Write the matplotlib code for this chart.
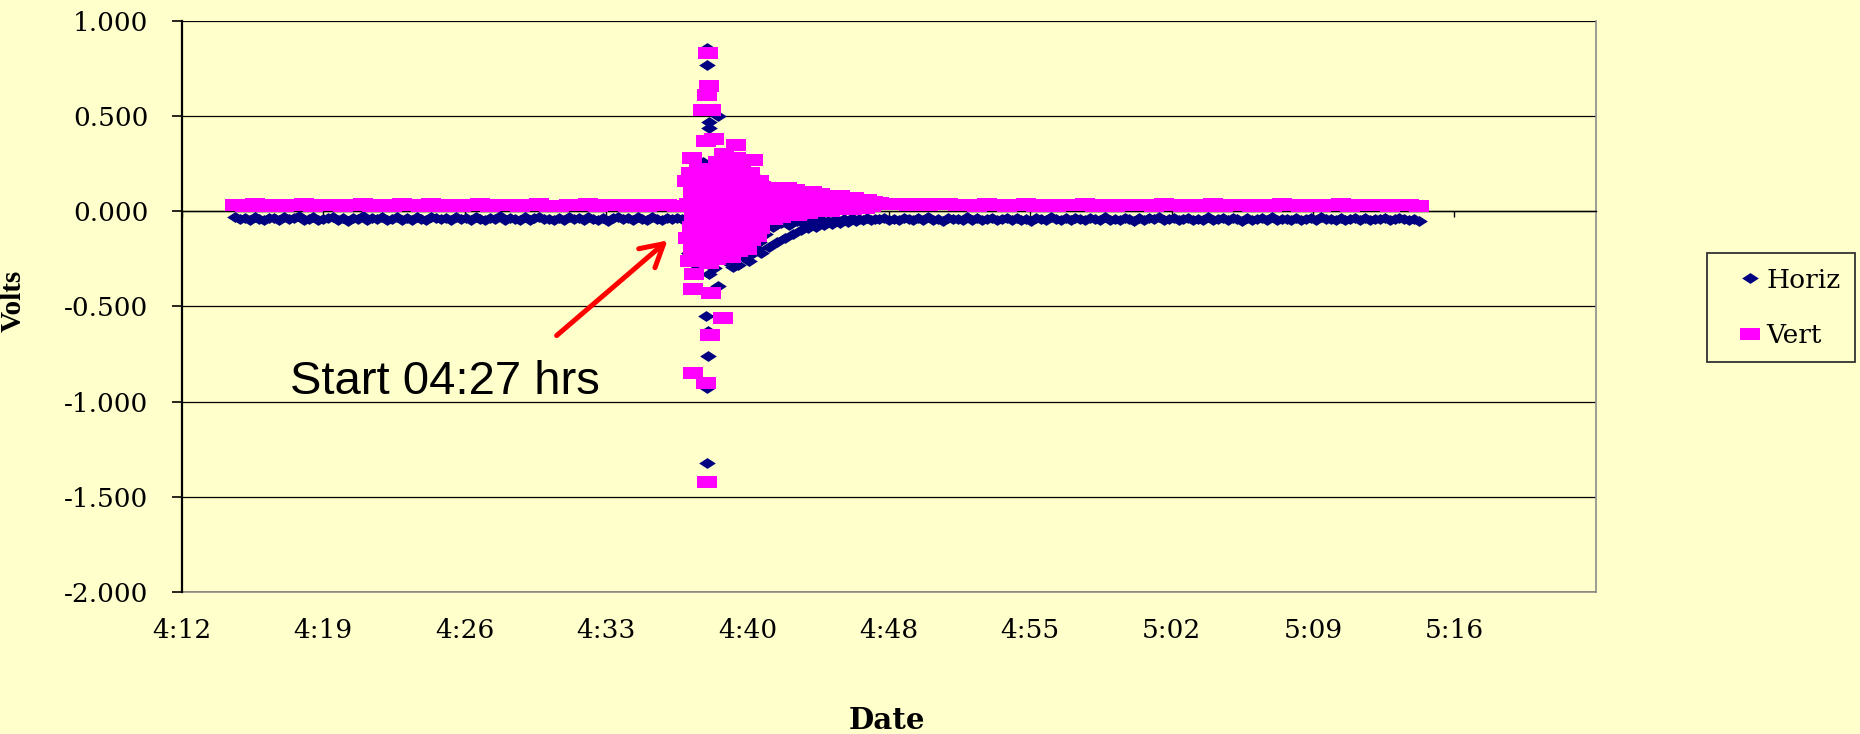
import numpy as np
import matplotlib.pyplot as plt
from matplotlib.path import Path

plt.rcParams['font.family'] = 'DejaVu Serif'

# time axis in minutes after midnight (4:12 = 252)
x_ticks = [252, 259.2, 266.4, 273.6, 280.8, 288, 295.2, 302.4, 309.6, 316.8]
x_labels = ['4:12', '4:19', '4:26', '4:33', '4:40', '4:48', '4:55', '5:02', '5:09', '5:16']
y_ticks = [-2.0, -1.5, -1.0, -0.5, 0.0, 0.5, 1.0]
y_labels = ['-2.000', '-1.500', '-1.000', '-0.500', '0.000', '0.500', '1.000']

# quiet period before the event
horiz_pre_start, horiz_pre_step = 254.7, 0.25
horiz_pre = [-0.030, -0.041, -0.035, -0.046, -0.028, -0.039, -0.044, -0.033, -0.037, -0.048,
             -0.031, -0.042, -0.036, -0.027, -0.045, -0.038, -0.032, -0.047, -0.040, -0.034,
             -0.029, -0.043, -0.037, -0.049, -0.033, -0.040, -0.026, -0.044, -0.036, -0.041,
             -0.031, -0.046, -0.038, -0.030, -0.043, -0.035, -0.048, -0.032, -0.039, -0.045,
             -0.028, -0.037, -0.042, -0.034, -0.047, -0.031, -0.040, -0.036, -0.044, -0.029,
             -0.038, -0.045, -0.033, -0.041, -0.027, -0.046, -0.035, -0.039, -0.043, -0.032,
             -0.048, -0.036, -0.030, -0.042, -0.038, -0.044, -0.033, -0.047, -0.029, -0.040,
             -0.035, -0.045, -0.031, -0.039, -0.043, -0.034, -0.049, -0.037, -0.028, -0.041,
             -0.036, -0.046, -0.032, -0.040, -0.044, -0.030, -0.038, -0.045, -0.034, -0.041,
             -0.033, -0.039]
vert_pre_start, vert_pre_step = 254.7, 0.5
vert_pre = [0.032, 0.028, 0.036, 0.030, 0.034, 0.027, 0.033, 0.037, 0.029, 0.035,
            0.031, 0.026, 0.034, 0.038, 0.029, 0.032, 0.027, 0.036, 0.031, 0.028,
            0.037, 0.030, 0.033, 0.027, 0.035, 0.038, 0.029, 0.032, 0.035, 0.028,
            0.033, 0.036, 0.030, 0.027, 0.034, 0.031, 0.037, 0.029, 0.032, 0.035,
            0.030, 0.034, 0.027, 0.031, 0.035, 0.030]

# the event itself (dense sampling)
horiz_ev_start, horiz_ev_step = 277.7, 0.1
horiz_event = [-0.05, -0.22, 0.05, -0.15, 0.10, -0.28, -0.02, 0.12, -0.18, 0.02,
               -0.25, 0.08, -0.10, 0.15, -0.30, 0.00, -0.12, 0.06, -0.20, 0.10,
               -0.26, -0.05, 0.04, -0.22, 0.12, -0.15, -0.28, 0.02, -0.08, -0.24,
               0.05, -0.18, -0.26, -0.10, -0.22, 0.00, -0.20, -0.16]
vert_ev_start, vert_ev_step = 277.7, 0.05
vert_event = [0.16, -0.14, 0.04, -0.26, 0.20, -0.08, 0.10, -0.20, -0.02,
              0.13, -0.24, 0.06, -0.11, 0.22, -0.17, 0.00, 0.09, -0.05,
              0.18, -0.22, 0.03, -0.13, 0.12, -0.27,
              0.07, 0.21, -0.09, -0.19, 0.15, -0.01, -0.25, 0.10, 0.26,
              -0.15, 0.04, -0.06, 0.18, -0.22, 0.30, -0.11, 0.08, -0.03,
              0.24, -0.18, 0.12, -0.24, 0.02, 0.19, -0.08, -0.14, 0.28,
              0.06, -0.21, 0.14, -0.04, 0.22,
              -0.12, 0.10, -0.18, 0.03, 0.17, -0.07, -0.20, 0.13, -0.01, 0.20,
              -0.15, 0.07, -0.10, 0.15, -0.05, 0.11, -0.13, 0.02, 0.16, -0.09]

# decay after the event
horiz_tail_start, horiz_tail_step = 281.5, 0.2
horiz_tail = [-0.22, -0.12, -0.19, -0.08, -0.16, -0.06, -0.14, -0.07, -0.12, -0.05,
              -0.10, -0.06, -0.09, -0.05, -0.08, -0.04, -0.07, -0.05, -0.065, -0.04,
              -0.06, -0.04, -0.055, -0.035, -0.05, -0.04, -0.045, -0.035, -0.045, -0.04]
vert_tail_start, vert_tail_step = 281.5, 0.1
vert_tail = [0.13, 0.04, -0.03, 0.09, 0.00, 0.12, -0.04, 0.06, 0.11, 0.02,
             -0.03, 0.10, 0.05, 0.12, -0.01, 0.07, 0.02, 0.11, -0.02, 0.06,
             0.10, 0.01, 0.05, 0.09, -0.01, 0.04, 0.10, 0.02, 0.07, 0.00,
             0.09, 0.04, 0.01, 0.08, 0.05, 0.00, 0.08, 0.03, 0.06, 0.01,
             0.08, 0.04, 0.02, 0.07, 0.03, 0.06, 0.01, 0.07, 0.04, 0.02,
             0.06, 0.03, 0.05, 0.02, 0.06, 0.04, 0.03, 0.05]

# quiet period after the event
horiz_post_start, horiz_post_step = 287.5, 0.25
horiz_post = [-0.042, -0.036, -0.047, -0.039, -0.044, -0.033, -0.041, -0.048, -0.037, -0.043,
              -0.031, -0.045, -0.038, -0.049, -0.035, -0.042, -0.040, -0.046, -0.032, -0.044,
              -0.037, -0.048, -0.039, -0.034, -0.045, -0.041, -0.036, -0.047, -0.033, -0.043,
              -0.038, -0.050, -0.035, -0.042, -0.046, -0.031, -0.040, -0.044, -0.037, -0.048,
              -0.034, -0.041, -0.045, -0.036, -0.039, -0.047, -0.032, -0.043, -0.038, -0.046,
              -0.035, -0.040, -0.049, -0.033, -0.044, -0.037, -0.042, -0.031, -0.045, -0.039,
              -0.036, -0.048, -0.041, -0.034, -0.046, -0.038, -0.043, -0.030, -0.044, -0.040,
              -0.035, -0.047, -0.037, -0.042, -0.049, -0.033, -0.045, -0.039, -0.036, -0.043,
              -0.032, -0.046, -0.040, -0.038, -0.044, -0.034, -0.048, -0.041, -0.036, -0.045,
              -0.031, -0.042, -0.039, -0.047, -0.035, -0.043, -0.040, -0.037, -0.046, -0.033,
              -0.044, -0.038, -0.041, -0.036, -0.045, -0.039, -0.034, -0.042, -0.047, -0.040,
              -0.050]
vert_post_start, vert_post_step = 287.5, 0.5
vert_post = [0.042, 0.038, 0.040, 0.035, 0.039, 0.033, 0.037, 0.039, 0.032, 0.035,
             0.029, 0.036, 0.032, 0.027, 0.034, 0.037, 0.030, 0.034, 0.028, 0.035,
             0.031, 0.037, 0.029, 0.033, 0.027, 0.035, 0.031, 0.034, 0.028, 0.036,
             0.032, 0.027, 0.034, 0.030, 0.037, 0.029, 0.032, 0.035, 0.028, 0.033,
             0.030, 0.036, 0.031, 0.027, 0.034, 0.029, 0.033, 0.036, 0.028, 0.034,
             0.031, 0.035, 0.027, 0.032, 0.034, 0.030]

# single large readings around the spike
horiz_spike_t = [278.75, 278.75, 279.3, 278.85, 278.85, 278.55, 281.4, 277.8,
                 278.85, 280.05, 279.3, 278.7, 278.8, 278.8, 278.75, 278.75]
horiz_spike_v = [0.86, 0.77, 0.50, 0.47, 0.44, 0.26, 0.17, -0.22,
                 -0.33, -0.29, -0.39, -0.55, -0.63, -0.76, -0.93, -1.32]
vert_spike_t = [278.8, 278.85, 278.75, 278.55, 278.95, 278.7, 279.1, 280.2, 281.1,
                277.95, 278.1, 278.0, 278.95, 279.55, 278.9, 278.0, 278.7, 278.75]
vert_spike_v = [0.83, 0.66, 0.61, 0.53, 0.53, 0.37, 0.38, 0.35, 0.27,
                0.28, -0.33, -0.41, -0.43, -0.56, -0.65, -0.85, -0.90, -1.42]


def seg_times(start, step, vals):
    return start + step * np.arange(len(vals))


horiz_t = np.concatenate([seg_times(horiz_pre_start, horiz_pre_step, horiz_pre),
                          seg_times(horiz_ev_start, horiz_ev_step, horiz_event),
                          seg_times(horiz_tail_start, horiz_tail_step, horiz_tail),
                          seg_times(horiz_post_start, horiz_post_step, horiz_post),
                          horiz_spike_t])
horiz_v = np.concatenate([horiz_pre, horiz_event, horiz_tail, horiz_post, horiz_spike_v])
vert_t = np.concatenate([seg_times(vert_pre_start, vert_pre_step, vert_pre),
                         seg_times(vert_ev_start, vert_ev_step, vert_event),
                         seg_times(vert_tail_start, vert_tail_step, vert_tail),
                         seg_times(vert_post_start, vert_post_step, vert_post),
                         vert_spike_t])
vert_v = np.concatenate([vert_pre, vert_event, vert_tail, vert_post, vert_spike_v])

bg = '#FFFFCC'
diamond = Path([(-1, 0), (0, 0.65), (1, 0), (0, -0.65), (-1, 0)], closed=True)
rect = Path([(-1, -0.62), (1, -0.62), (1, 0.62), (-1, 0.62), (-1, -0.62)], closed=True)

fig = plt.figure(figsize=(18.6, 7.34), dpi=100, facecolor=bg)
ax = fig.add_axes([0.0978, 0.1935, 0.7602, 0.7779], facecolor=bg)

ax.plot(horiz_t, horiz_v, ls='none', marker=diamond, ms=12, mew=0,
        color='#000080', label='Horiz', zorder=3)
ax.plot(vert_t, vert_v, ls='none', marker=rect, ms=14.5, mew=0,
        color='#FF00FF', label='Vert', zorder=4)

ax.set_xlim(252, 324)
ax.set_ylim(-2, 1)

# x axis line sits at 0 volts, labels stay at the bottom
ax.spines['bottom'].set_position(('data', 0))
ax.spines['bottom'].set_color('black')
ax.spines['bottom'].set_linewidth(1.0)
ax.spines['top'].set_visible(False)
ax.spines['right'].set_color('#8c8c8c')
ax.spines['right'].set_linewidth(1.2)
ax.spines['left'].set_color('black')
ax.spines['left'].set_linewidth(1.6)
ax.set_xticks(x_ticks)
ax.tick_params(axis='x', direction='out', length=4, width=1, labelbottom=False)

sec = ax.secondary_xaxis('bottom')
sec.set_xticks(x_ticks, labels=x_labels)
sec.tick_params(length=0, pad=19, labelsize=19)
sec.spines['bottom'].set_color('#8c8c8c')
sec.spines['bottom'].set_linewidth(1.2)

ax.set_yticks(y_ticks, labels=y_labels)
ax.tick_params(axis='y', direction='out', length=7, width=1.2, pad=17, labelsize=19)
ax.grid(axis='y', color='black', lw=0.9)
ax.set_axisbelow(True)

ax.set_ylabel('Volts', family='Liberation Serif', weight='bold', size=21)
ax.yaxis.set_label_coords(-0.11, 0.51)
fig.text(0.477, 0.018, 'Date', weight='bold', size=21, ha='center', va='center')

ax.annotate('', xy=(276.73, -0.153), xytext=(271.08, -0.653),
            arrowprops=dict(arrowstyle='->, head_length=0.8, head_width=0.45',
                            color='red', lw=3.6, shrinkA=0, shrinkB=0,
                            mutation_scale=20))
ax.text(257.5, -0.958, 'Start 04:27 hrs', fontsize=34, family='Liberation Sans',
        va='baseline', ha='left')

leg = ax.legend(loc='upper left', bbox_to_anchor=(0.9177, 0.6553),
                bbox_transform=fig.transFigure, fancybox=False, edgecolor='#333333',
                facecolor=bg, framealpha=1, fontsize=19, borderpad=0.55,
                handlelength=2.2, handletextpad=-0.5, labelspacing=1.15,
                numpoints=1, borderaxespad=0)
leg.get_frame().set_linewidth(1.3)

plt.savefig('out.png', dpi=100, facecolor=bg)
